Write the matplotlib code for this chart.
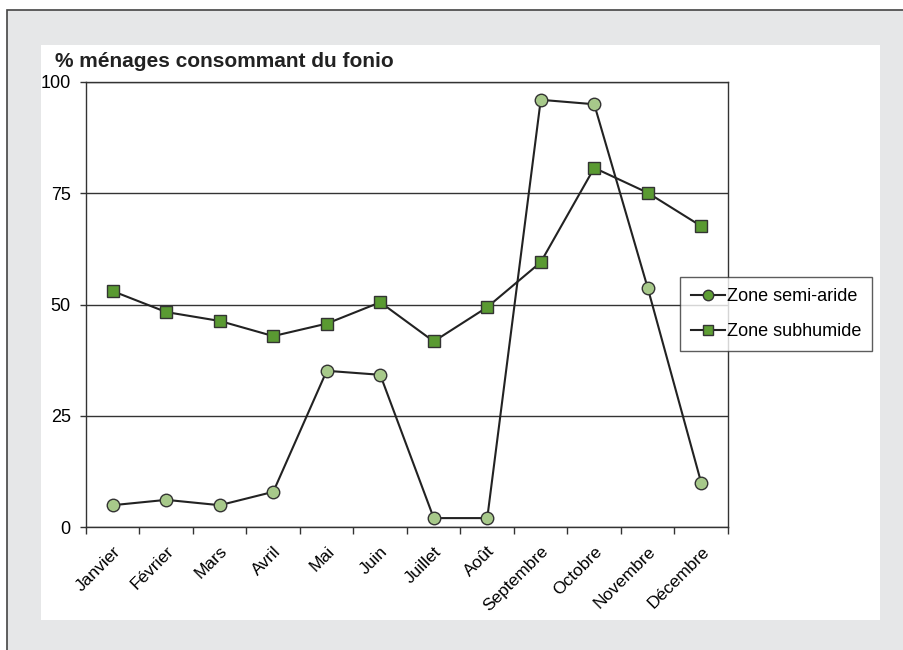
import numpy as np
import matplotlib
matplotlib.use("Agg")
import matplotlib.pyplot as plt
from matplotlib.patches import Rectangle
from matplotlib.lines import Line2D

plt.rcParams['font.family'] = ['Liberation Sans', 'DejaVu Sans']

mois = ['Janvier', 'Février', 'Mars', 'Avril', 'Mai', 'Juin', 'Juillet', 'Août',
        'Septembre', 'Octobre', 'Novembre', 'Décembre']
semi_aride = [4.9, 6.1, 4.9, 7.9, 35.1, 34.2, 2.0, 2.0, 96.0, 95.0, 53.7, 9.9]
subhumide = [53.0, 48.3, 46.3, 42.9, 45.7, 50.5, 41.7, 49.4, 59.5, 80.7, 75.1, 67.6]
series_names = ['Zone semi-aride', 'Zone subhumide']
y_ticks = [0, 25, 50, 75, 100]

W, H = 904, 650
fig = plt.figure(figsize=(W / 100, H / 100), dpi=100)
fig.patch.set_facecolor('white')

# fond gris avec cadre, puis panneau blanc
fig.patches.append(Rectangle((7 / W, -0.1), 1.2, 1 - 10 / H + 0.1, transform=fig.transFigure,
                             facecolor='#e6e7e8', edgecolor='#444444', lw=1.2, zorder=-2))
fig.patches.append(Rectangle((41 / W, 1 - 620 / H), (880 - 41) / W, (620 - 45) / H,
                             transform=fig.transFigure, facecolor='white', edgecolor='none', zorder=-1))

ax = fig.add_axes([86 / W, 1 - 527 / H, (728 - 86) / W, (527 - 82) / H])
ax.set_zorder(2)
ax.set_facecolor('none')
x = np.arange(len(mois))

ax.plot(x, semi_aride, color='#222222', lw=1.5, marker='o', markersize=9,
        markerfacecolor='#a7c98a', markeredgecolor='#333333', markeredgewidth=1, zorder=3)
ax.plot(x, subhumide, color='#222222', lw=1.5, marker='s', markersize=9,
        markerfacecolor='#5a9a32', markeredgecolor='#333333', markeredgewidth=1, zorder=3)

ax.set_xlim(-0.5, len(mois) - 0.5)
ax.set_ylim(0, 100)
ax.set_yticks(y_ticks)
ax.set_yticklabels([str(v) for v in y_ticks], fontsize=13)
ax.set_xticks(x)
ax.set_xticklabels(mois, rotation=45, ha='right', rotation_mode='anchor', fontsize=12.5)
ax.set_xticks(np.arange(-0.5, len(mois)), minor=True)
ax.tick_params(axis='x', which='major', length=0, pad=12)
ax.tick_params(axis='x', which='minor', length=5, width=1, color='#333333', direction='out')
ax.tick_params(axis='y', length=4, width=1, color='#333333', pad=7)
ax.yaxis.grid(True, color='#333333', lw=1)
ax.set_axisbelow(True)
for sp in ax.spines.values():
    sp.set_color('#333333')
    sp.set_linewidth(1)

fig.text(55 / W, 1 - 67 / H, '% ménages consommant du fonio', fontsize=15, fontweight='bold',
         color='#222222', zorder=5)

# dans la légende, les deux symboles sont vert moyen
handles = [Line2D([], [], color='#222222', lw=1.5, marker=m, markersize=7.5,
                  markerfacecolor='#5e9e34', markeredgecolor='#333333', markeredgewidth=1)
           for m in ['o', 's']]
leg = fig.legend(handles, series_names, loc='upper left', bbox_to_anchor=(680 / W, 1 - 277 / H),
                 borderaxespad=0, fontsize=13, frameon=True, fancybox=False, handlelength=1.9,
                 handletextpad=0.1, labelspacing=1.0, borderpad=0.6)
leg.get_frame().set_edgecolor('#333333')
leg.get_frame().set_linewidth(1)
leg.set_zorder(5)

fig.savefig('out.png', dpi=100)
